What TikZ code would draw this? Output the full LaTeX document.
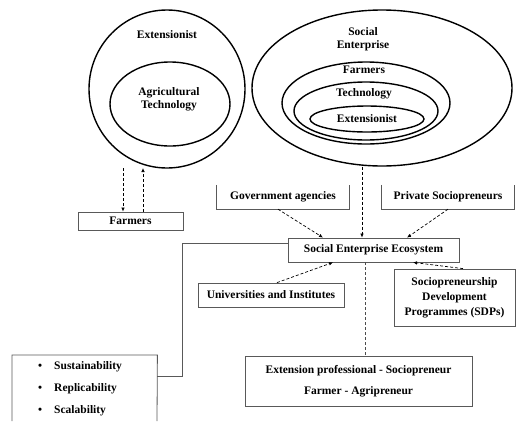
\documentclass[tikz,border=0pt]{standalone}
\usepackage{fontspec}
\setmainfont{Liberation Serif}
\usetikzlibrary{arrows.meta,shapes.geometric}
\begin{document}
\begin{tikzpicture}[x=1pt,y=-1pt,
  lbl/.style={font=\fontsize{11.5}{13}\selectfont\bfseries, align=center, inner sep=0pt},
  ring/.style={draw, ellipse, line width=1.4pt, inner sep=0pt},
  boxline/.style={draw=black!65, line width=0.8pt},
  boxn/.style={lbl, boxline},
  ghost/.style={lbl},
  dsh/.style={dash pattern=on 3pt off 2pt, line width=0.7pt, -{Latex[length=4pt,width=3.5pt]}},
  dshline/.style={dash pattern=on 3pt off 2pt, line width=0.6pt, draw=black!70},
  conn/.style={draw=black!65, line width=0.8pt}
]
\useasboundingbox (0,0) rectangle (517,421);

% left circles
\node[ring, minimum width=156pt, minimum height=158pt] (extc) at (167,89) {};
\node[ring, minimum width=120pt, minimum height=84pt] (agri) at (170,104) {};
\node[lbl] (extl) at (167,35) {Extensionist};
\node[lbl] (agril) at (169,99) {Agricultural\\Technology};

% farmers box
\node[boxn, minimum width=105pt, minimum height=18pt] (farm) at (130.5,221) {Farmers};
\coordinate (d1) at (123,168);
\coordinate (u1) at (143,168);
\draw[dsh] (d1) -- (d1 |- farm.north);
\draw[dsh] (u1 |- farm.north) -- (u1);

% right ellipses
\node[ring, minimum width=260pt, minimum height=156pt] (se) at (382,88) {};
\node[ring, minimum width=168pt, minimum height=82pt] (fe) at (366,103) {};
\node[ring, minimum width=144pt, minimum height=58pt] (te) at (366,111) {};
\node[ring, minimum width=114pt, minimum height=26pt] (ee) at (367,119) {};
\node[lbl] (sel) at (363,39) {Social\\Enterprise};
\node[lbl] (fel) at (364,70) {Farmers};
\node[lbl] (tel) at (364,94) {Technology};
\node[lbl] (eel) at (367,119) {Extensionist};

% open-top boxes
\node[ghost, minimum width=132pt, minimum height=24pt] (gov) at (283,197) {Government agencies};
\draw[boxline] (gov.north west) -- (gov.south west) -- (gov.south east) -- (gov.north east);
\node[ghost, minimum width=132pt, minimum height=24pt] (priv) at (448,197) {Private Sociopreneurs};
\draw[boxline] (priv.north west) -- (priv.south west) -- (priv.south east) -- (priv.north east);

% ecosystem
\node[boxn, minimum width=171pt, minimum height=24pt] (see) at (373.5,250) {Social Enterprise Ecosystem};
\node[boxn, minimum width=146pt, minimum height=24pt] (uni) at (271,295) {Universities and Institutes};
\node[boxn, minimum width=121pt, minimum height=57pt, font=\fontsize{11.5}{15}\selectfont\bfseries] (sdp) at (454.5,297.5) {Sociopreneurship\\Development\\Programmes (SDPs)};
\node[boxn, minimum width=227pt, minimum height=50pt, font=\fontsize{11.5}{21}\selectfont\bfseries] (ext) at (358.5,381) {Extension professional - Sociopreneur\\Farmer - Agripreneur};

% bullets box (bottom cut by the frame)
\node[ghost, minimum width=145pt, minimum height=42pt, anchor=north west] (bul) at (12,355) {};
\draw[boxline] (12,421) -- (bul.north west) -- (bul.north east) -- (157,421);
\node[lbl, anchor=west] (b1) at (38,367) {\textbullet\hspace{12pt}Sustainability};
\node[lbl, anchor=west] (b2) at (38,389) {\textbullet\hspace{12pt}Replicability};
\node[lbl, anchor=west] (b3) at (38,411) {\textbullet\hspace{12pt}Scalability};

% connectors
\draw[conn] (bul.east) -- ++(25,0) |- ([yshift=7pt]see.west);
\draw[dsh] ([xshift=-5pt]gov.south) -- ([xshift=-50.5pt]see.north);
\draw[dsh] ([xshift=-20pt]se.south) -- ([xshift=-11.5pt]see.north);
\draw[dsh] (priv.south) -- ([xshift=33.5pt]see.north);
\draw[dsh] ([xshift=6pt]uni.north) -- ([xshift=-40.5pt]see.south);
\draw[dsh] ([xshift=8.5pt]sdp.north) -- ([xshift=39.5pt]see.south);
\draw[dshline] ([xshift=-8.5pt]see.south) -- ([xshift=6.5pt]ext.north);
\end{tikzpicture}
\end{document}
